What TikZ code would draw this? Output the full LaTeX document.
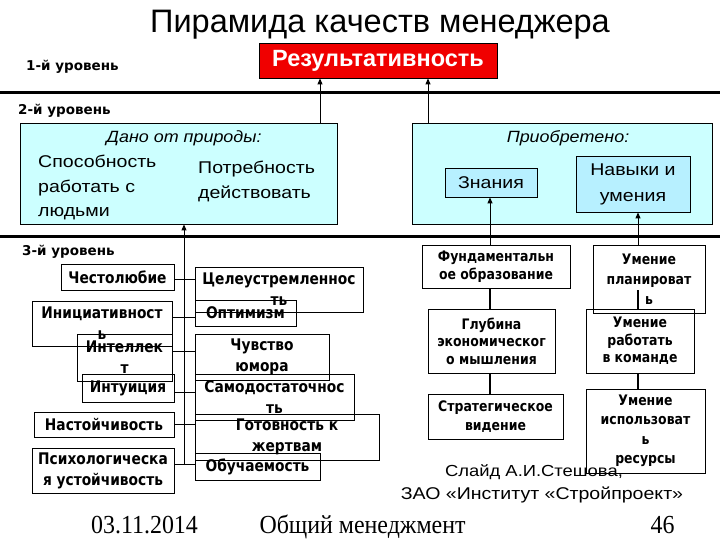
\documentclass[tikz,border=0pt]{standalone}
\usepackage{fontspec}
\setmainfont{Liberation Sans}
\newfontfamily\titfont{Liberation Sans}
\newfontfamily\redfont{Liberation Sans Bold}
\newfontfamily\bigfont{Liberation Sans}[FakeStretch=1.15]
\newfontfamily\bigitfont{Liberation Sans Italic}[FakeStretch=1.1]
\newfontfamily\labfont{DejaVu Sans Bold}[FakeStretch=0.86]
\newfontfamily\levfont{DejaVu Sans Bold}
\newfontfamily\footfont{Liberation Serif}[FakeStretch=0.92]
\usetikzlibrary{arrows.meta}
\definecolor{paleblue}{RGB}{204,255,255}
\definecolor{innerblue}{RGB}{183,240,255}
\definecolor{redbox}{RGB}{240,0,0}
\begin{document}
\begin{tikzpicture}[x=1pt,y=-1pt,
  lbox/.style={draw, line width=0.8pt, inner sep=0pt, align=center,
    font=\labfont\fontsize{16}{21}\selectfont},
  rbox/.style={draw, line width=0.8pt, inner sep=0pt, align=center,
    font=\labfont\fontsize{14.5}{17.5}\selectfont},
  bluebox/.style={draw, line width=0.8pt, fill=paleblue, inner sep=0pt},
  innerbox/.style={draw, line width=0.8pt, fill=innerblue, inner sep=0pt, align=center,
    font=\bigfont\fontsize{17}{26}\selectfont},
  bigtext/.style={anchor=base west, inner sep=0pt, font=\bigfont\fontsize{17}{24}\selectfont},
  levtext/.style={anchor=base west, inner sep=0pt, font=\levfont\fontsize{13.5}{16}\selectfont},
  foottext/.style={anchor=base, inner sep=0pt, font=\footfont\fontsize{26}{30}\selectfont},
  arr/.style={-{Triangle[width=5pt,length=6pt]}, line width=1pt},
  conn/.style={line width=1.6pt},
  hconn/.style={line width=0.8pt},
  levelline/.style={line width=3pt}
]
\useasboundingbox (0,0) rectangle (720,540);
\fill[white] (0,0) rectangle (720,540);

% title
\node[anchor=base, inner sep=0pt, font=\titfont\fontsize{32.5}{38}\selectfont] (title) at (380,33) {Пирамида качеств менеджера};

% level 1
\node[levtext] (lev1) at (26,71) {1-й уровень};
\node[draw, line width=0.8pt, fill=redbox, text=white, inner sep=0pt,
  minimum width=238pt, minimum height=35pt,
  font=\redfont\fontsize{23.5}{28}\selectfont] (result) at (378,60.5) {Результативность};

\coordinate (l1a) at (0,93);
\coordinate (l1b) at (720,93);
\draw[levelline] (l1a) -- (l1b);

\node[levtext] (lev2) at (18,115) {2-й уровень};

% level 2 boxes
\node[bluebox, minimum width=317pt, minimum height=101pt] (nature) at (178.5,173.5) {};
\node[bluebox, minimum width=300pt, minimum height=101pt] (acq) at (562,173.5) {};

\node[anchor=base, inner sep=0pt, font=\bigitfont\fontsize{16.3}{24}\selectfont] (natlbl) at (184,143) {Дано от природы:};
\node[anchor=base, inner sep=0pt, font=\bigitfont\fontsize{16.3}{24}\selectfont] (acqlbl) at (568,143) {Приобретено:};

\node[bigtext] (sp1) at (38,168) {Способность};
\node[bigtext] (sp2) at (38,193) {работать с};
\node[bigtext] (sp3) at (38,217) {людьми};
\node[bigtext] (pt1) at (198,174) {Потребность};
\node[bigtext] (pt2) at (198,199) {действовать};

\node[innerbox, minimum width=92pt, minimum height=29pt] (znan) at (491,182.5) {Знания};
\node[innerbox, minimum width=114pt, minimum height=56pt] (navy) at (633,184) {Навыки и\\умения};

% arrows to result
\coordinate (ax1) at (320,0);
\coordinate (ax2) at (428,0);
\draw[arr] (ax1 |- nature.north) -- (ax1 |- result.south);
\draw[arr] (ax2 |- acq.north) -- (ax2 |- result.south);

\coordinate (l2a) at (0,236);
\coordinate (l2b) at (720,236);
\draw[levelline] (l2a) -- (l2b);

\node[levtext] (lev3) at (22,255) {3-й уровень};

% left column
\node[lbox, minimum width=113pt, minimum height=26pt] (chest) at (117.5,277) {Честолюбие};
\node[lbox, minimum width=168pt, minimum height=45pt] (celi) at (279,289.5) {Целеустремленнос\\ть};
\node[lbox, minimum width=101pt, minimum height=26pt] (opt) at (245.5,313) {Оптимизм};
\node[lbox, minimum width=140pt, minimum height=45pt] (iniz) at (102,323.5) {Инициативност\\ь};
\node[lbox, minimum width=95pt, minimum height=47pt] (intel) at (124.5,357.5) {Интеллек\\т};
\node[lbox, minimum width=134pt, minimum height=46pt] (humor) at (262,357) {Чувство\\юмора};
\node[lbox, minimum width=92pt, minimum height=28pt] (intu) at (128,388) {Интуиция};
\node[lbox, minimum width=159pt, minimum height=46pt] (samo) at (274.5,397) {Самодостаточнос\\ть};
\node[lbox, minimum width=140pt, minimum height=25pt] (nast) at (104,424.5) {Настойчивость};
\node[lbox, minimum width=184pt, minimum height=46pt] (got) at (287,437) {Готовность к\\жертвам};
\node[lbox, minimum width=142pt, minimum height=45pt] (psych) at (103,470.5) {Психологическа\\я устойчивость};
\node[lbox, minimum width=125pt, minimum height=27pt] (obuch) at (257.5,466.5) {Обучаемость};

% left connectors
\coordinate (vb) at (184,465);
\draw[arr] (vb) -- (vb |- nature.south);
\coordinate (r1) at (184,279);
\coordinate (r2) at (184,317);
\coordinate (r3) at (184,351);
\coordinate (r4) at (184,392);
\coordinate (r5) at (184,424);
\coordinate (r6) at (184,464);
\draw[hconn] (r1 -| chest.east) -- (r1 -| celi.west);
\draw[hconn] (r2 -| iniz.east) -- (r2 -| opt.west);
\draw[hconn] (r3 -| intel.east) -- (r3 -| humor.west);
\draw[hconn] (r4 -| intu.east) -- (r4 -| samo.west);
\draw[hconn] (r5 -| nast.east) -- (r5 -| got.west);
\draw[hconn] (r6 -| psych.east) -- (r6 -| obuch.west);

% right column
\node[rbox, minimum width=148pt, minimum height=43pt] (fund) at (496,266.5) {Фундаментальн\\ое образование};
\node[rbox, minimum width=112pt, minimum height=68pt, font=\labfont\fontsize{14.5}{20}\selectfont] (plan) at (649,279) {Умение\\планироват\\ь};
\node[rbox, minimum width=127pt, minimum height=64pt] (glub) at (491.5,341) {Глубина\\экономическог\\о мышления};
\node[rbox, minimum width=108pt, minimum height=64pt] (team) at (640,341) {Умение\\работать\\в команде};
\node[rbox, minimum width=135pt, minimum height=45pt, font=\labfont\fontsize{14.5}{19}\selectfont] (strat) at (495.5,416.5) {Стратегическое\\видение};
\node[rbox, minimum width=119pt, minimum height=84pt, font=\labfont\fontsize{14.5}{19.5}\selectfont] (res) at (645.5,431) {Умение\\использоват\\ь\\ресурсы};

\coordinate (cx1) at (490,0);
\coordinate (cx2) at (638,0);
\coordinate (pl) at (638,290);
\draw[arr] (cx1 |- fund.north) -- (cx1 |- znan.south);
\draw[arr] (cx2 |- plan.north) -- (cx2 |- navy.south);
\draw[conn] (cx1 |- fund.south) -- (cx1 |- glub.north);
\draw[conn] (cx1 |- glub.south) -- (cx1 |- strat.north);
\draw[conn] (pl) -- (pl |- team.north);
\draw[conn] (cx2 |- team.south) -- (cx2 |- res.north);

% credits
\node[anchor=base, inner sep=0pt, font=\bigfont\fontsize{16}{24}\selectfont] (cred1) at (534,476) {Слайд А.И.Стешова,};
\node[anchor=base, inner sep=0pt, font=\bigfont\fontsize{17}{24}\selectfont] (cred2) at (542,499) {ЗАО «Институт «Стройпроект»};

% footer
\node[foottext] (date) at (144.5,533) {03.11.2014};
\node[foottext] (course) at (362.5,533) {Общий менеджмент};
\node[foottext] (page) at (662.5,533) {46};
\end{tikzpicture}
\end{document}
